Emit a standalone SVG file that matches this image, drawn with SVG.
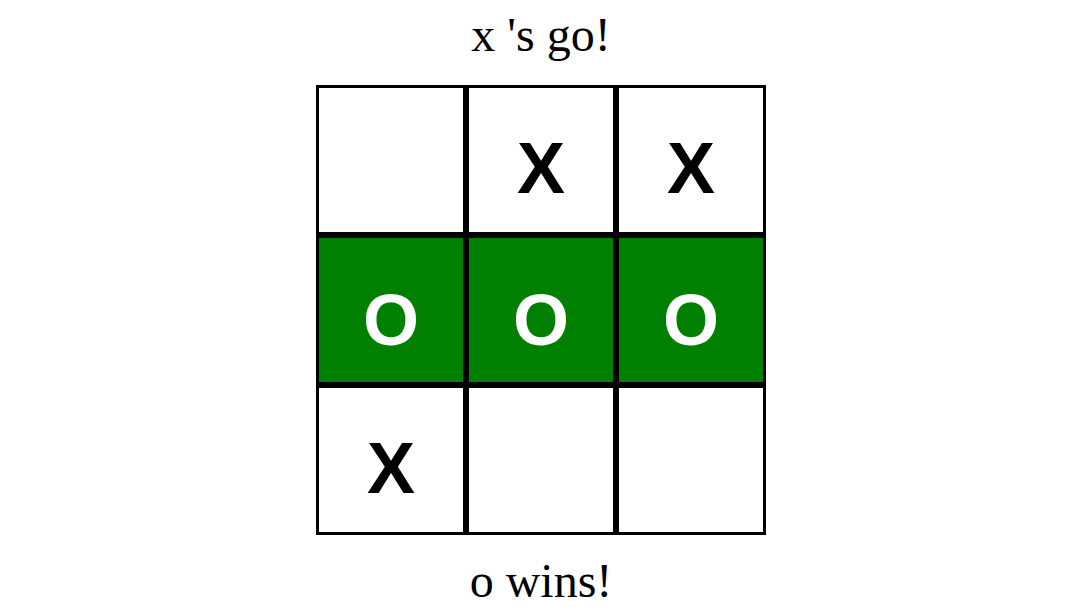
<svg xmlns="http://www.w3.org/2000/svg" width="1081" height="613" viewBox="0 0 1081 613">
<style>
.cell{fill:#ffffff;stroke:#000000;stroke-width:3}
.win{fill:#008000}
.mark{font-family:"Liberation Sans",Arial,sans-serif;font-weight:bold;font-size:72px;text-anchor:middle}
.x{fill:#000000}
.o{fill:#ffffff}
.msg{font-family:"Liberation Serif","Times New Roman",serif;font-size:48px;text-anchor:middle;fill:#000000}
</style>
<rect width="1081" height="613" fill="#ffffff"/>
<text class="msg" x="541" y="51">x 's go!</text>
<g id="c00"><rect class="cell" x="317.5" y="86.5" width="147" height="147"/></g>
<g id="c01"><rect class="cell" x="467.5" y="86.5" width="147" height="147"/><text class="mark x" x="541" y="193">X</text></g>
<g id="c02"><rect class="cell" x="617.5" y="86.5" width="147" height="147"/><text class="mark x" x="691" y="193">X</text></g>
<g id="c10"><rect class="cell win" x="317.5" y="236.5" width="147" height="147"/><text class="mark o" x="391" y="345">O</text></g>
<g id="c11"><rect class="cell win" x="467.5" y="236.5" width="147" height="147"/><text class="mark o" x="541" y="345">O</text></g>
<g id="c12"><rect class="cell win" x="617.5" y="236.5" width="147" height="147"/><text class="mark o" x="691" y="345">O</text></g>
<g id="c20"><rect class="cell" x="317.5" y="386.5" width="147" height="147"/><text class="mark x" x="391" y="493">X</text></g>
<g id="c21"><rect class="cell" x="467.5" y="386.5" width="147" height="147"/></g>
<g id="c22"><rect class="cell" x="617.5" y="386.5" width="147" height="147"/></g>
<g id="connectors"></g>
<text class="msg" x="541" y="597">o wins!</text>
</svg>
